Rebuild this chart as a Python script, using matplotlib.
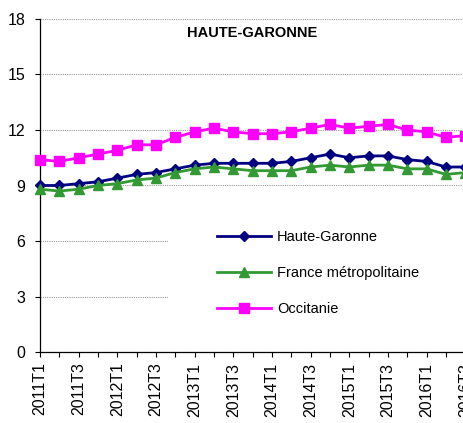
import matplotlib
matplotlib.use("Agg")
import matplotlib.pyplot as plt
from matplotlib.patches import Rectangle

quarters = ["2011T1", "2011T2", "2011T3", "2011T4",
            "2012T1", "2012T2", "2012T3", "2012T4",
            "2013T1", "2013T2", "2013T3", "2013T4",
            "2014T1", "2014T2", "2014T3", "2014T4",
            "2015T1", "2015T2", "2015T3", "2015T4",
            "2016T1", "2016T2", "2016T3"]

haute_garonne = [9.0, 9.0, 9.1, 9.2, 9.4, 9.6, 9.7, 9.9, 10.1, 10.2, 10.2, 10.2,
                 10.2, 10.3, 10.5, 10.7, 10.5, 10.6, 10.6, 10.4, 10.3, 10.0, 10.0]
france = [8.8, 8.7, 8.8, 9.0, 9.1, 9.3, 9.4, 9.7, 9.9, 10.0, 9.9, 9.8,
          9.8, 9.8, 10.0, 10.1, 10.0, 10.1, 10.1, 9.9, 9.9, 9.6, 9.7]
occitanie = [10.4, 10.3, 10.5, 10.7, 10.9, 11.2, 11.2, 11.6, 11.9, 12.1, 11.9, 11.8,
             11.8, 11.9, 12.1, 12.3, 12.1, 12.2, 12.3, 12.0, 11.9, 11.6, 11.7]

plt.rcParams['font.family'] = ['Liberation Sans', 'DejaVu Sans']

fig = plt.figure(figsize=(4.64, 4.23), dpi=100)
# axis runs past the right edge of the picture, like the cropped original
ax = fig.add_axes([40/464, 71/423, 23*19.33/464, 333/423])

x = list(range(len(quarters)))
ax.plot(x, haute_garonne, color='#000080', lw=2, marker='D', ms=4.8,
        label='Haute-Garonne', clip_on=False, zorder=3)
ax.plot(x, france, color='#339933', lw=2, marker='^', ms=7,
        label='France métropolitaine', clip_on=False, zorder=3)
ax.plot(x, occitanie, color='#FF00FF', lw=2, marker='s', ms=6.5,
        label='Occitanie', clip_on=False, zorder=3)

ax.set_xlim(0, 23)
ax.set_ylim(0, 18)
ax.set_yticks(range(0, 19, 3))
ax.set_xticks(x)
ax.set_xticklabels([q if i % 2 == 0 else '' for i, q in enumerate(quarters)],
                   rotation=90)
ax.tick_params(axis='y', length=3.6, width=0.8, pad=7, labelsize=11.5)
ax.tick_params(axis='x', length=3.6, width=0.8, pad=4, labelsize=11.5)

ax.yaxis.grid(True, linestyle=(0, (1, 1)), color='#999999', lw=0.8)
ax.set_axisbelow(True)
for s in ['top', 'right']:
    ax.spines[s].set_visible(False)
for s in ['left', 'bottom']:
    ax.spines[s].set_linewidth(0.9)

# white legend background hiding the lower gridlines
ax.add_patch(Rectangle((0.288, 0.025), 0.712, 0.45, transform=ax.transAxes,
                       facecolor='white', edgecolor='none', zorder=1))

fig.text(252/464, 1 - 33/423, 'HAUTE-GARONNE', ha='center', va='center',
         fontsize=10.5, fontweight='bold')

leg = ax.legend(loc='upper left', bbox_to_anchor=(217/464, 1 - 230/423),
                bbox_transform=fig.transFigure, fontsize=10.5, frameon=False,
                borderpad=0, borderaxespad=0, labelspacing=1.5,
                handlelength=3.7, handletextpad=0.4)

fig.savefig('out.png', dpi=100)
